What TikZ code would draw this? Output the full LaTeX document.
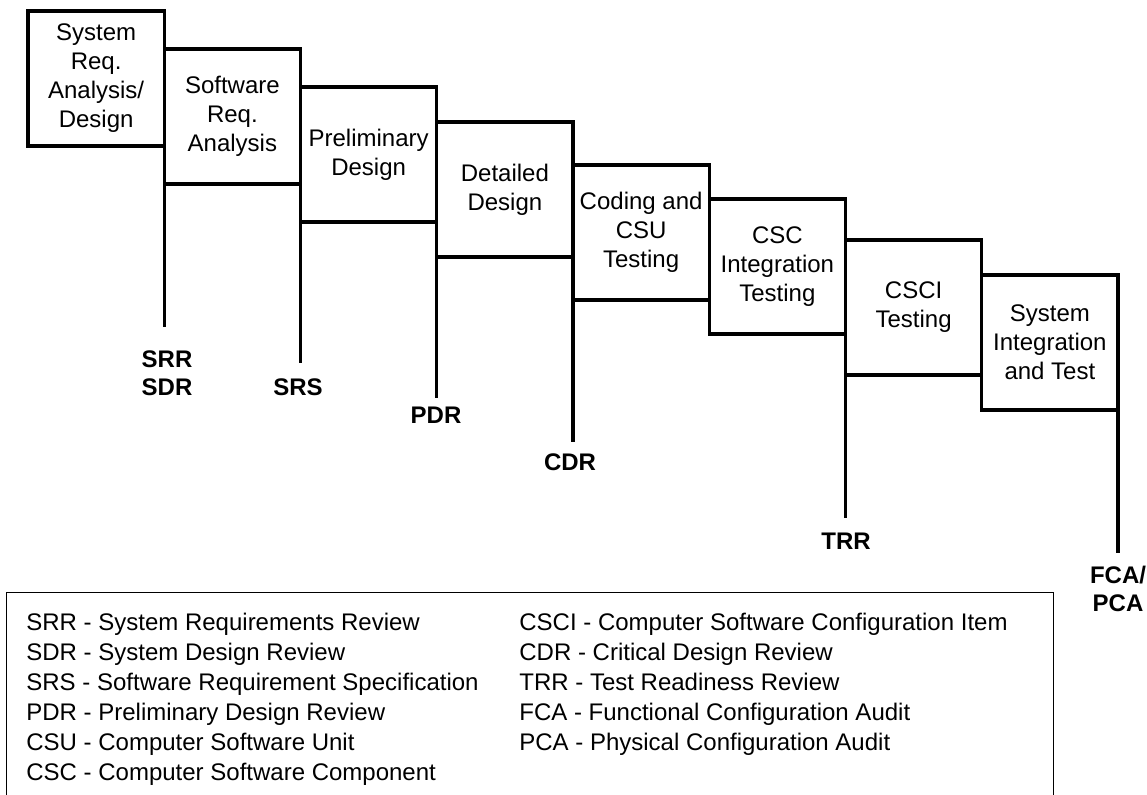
\documentclass[tikz,border=0pt]{standalone}
\usepackage{fontspec}
\setmainfont{Liberation Sans}
\usepackage{tikz}

\begin{document}
\begin{tikzpicture}[x=0.5pt,y=-0.5pt,
    phase/.style={draw=black, line width=1.6pt, minimum width=68.125pt, minimum height=67.5pt,
      inner sep=0pt, outer sep=0pt, align=center, font=\fontsize{12}{14.5}\selectfont},
    milestone/.style={draw=black, line width=1.6pt},
    review/.style={anchor=north, inner sep=0pt, align=center, font=\fontsize{12}{14}\selectfont\bfseries},
    acronym/.style={anchor=base west, inner sep=0pt, font=\fontsize{12}{15}\selectfont}]
  \useasboundingbox (0,0) rectangle (1147,795);
  \node[phase, anchor=north west] (sysreq) at (28,11) {System\\Req.\\Analysis/\\Design};
  \node[phase, anchor=north west] (swreq) at (164.25,49) {Software\\Req.\\Analysis};
  \node[phase, anchor=north west] (prelim) at (300.5,87) {Preliminary\\Design};
  \node[phase, anchor=north west] (detail) at (436.75,122) {Detailed\\Design};
  \node[phase, anchor=north west] (coding) at (573,165) {Coding and\\CSU\\Testing};
  \node[phase, anchor=north west] (cscint) at (709.25,199) {CSC\\Integration\\Testing};
  \node[phase, anchor=north west] (csci) at (845.5,240) {CSCI\\Testing};
  \node[phase, anchor=north west] (sysint) at (981.75,275) {System\\Integration\\and Test};
  \coordinate (srr end) at (164.25,327);
  \coordinate (srs end) at (300.5,363);
  \coordinate (pdr end) at (436.75,398);
  \coordinate (cdr end) at (573,442);
  \coordinate (trr end) at (845.5,518);
  \coordinate (fca end) at (1118,553);
  \draw[milestone] (sysreq.south east) -- (srr end);
  \draw[milestone] (swreq.south east) -- (srs end);
  \draw[milestone] (prelim.south east) -- (pdr end);
  \draw[milestone] (detail.south east) -- (cdr end);
  \draw[milestone] (cscint.south east) -- (trr end);
  \draw[milestone] (sysint.south east) -- (fca end);
  \node[review] (srrsdr) at (167,350) {SRR\\SDR};
  \node[review] (srs) at (298,378) {SRS};
  \node[review] (pdr) at (436,407) {PDR};
  \node[review] (cdr) at (570,453) {CDR};
  \node[review] (trr) at (846,533) {TRR};
  \node[review] (fcapca) at (1118,566) {FCA/\\PCA};
  \draw[line width=0.5pt] (6,800) -- (6,593) -- (1053,593) -- (1053,800);
  \foreach \txt [count=\i from 0] in {SRR - System Requirements Review, SDR - System Design Review,
      SRS - Software Requirement Specification, PDR - Preliminary Design Review,
      CSU - Computer Software Unit, CSC - Computer Software Component}
    \node[acronym] (left\i) at (26,{630.7+29.9*\i}) {\txt};
  \foreach \txt [count=\i from 0] in {CSCI - Computer Software Configuration Item, CDR - Critical Design Review,
      TRR - Test Readiness Review, FCA - Functional Configuration Audit,
      PCA - Physical Configuration Audit}
    \node[acronym] (right\i) at (519,{630.7+29.9*\i}) {\txt};
\end{tikzpicture}
\end{document}
